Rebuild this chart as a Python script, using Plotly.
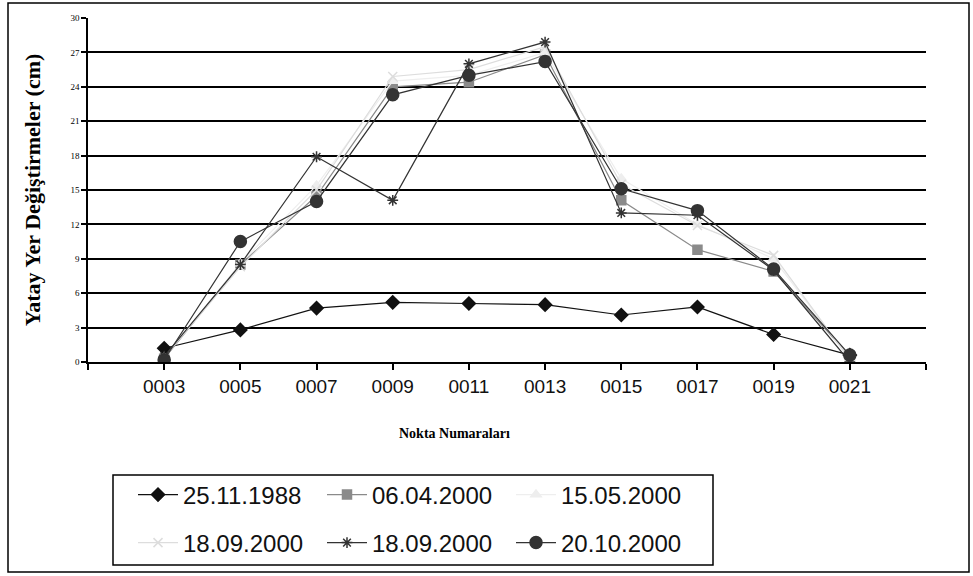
import plotly.graph_objects as go

categories = ["0003", "0005", "0007", "0009", "0011", "0013", "0015", "0017", "0019", "0021"]
y_ticks = [0, 3, 6, 9, 12, 15, 18, 21, 24, 27, 30]

s_1988 = [1.2, 2.8, 4.7, 5.2, 5.1, 5.0, 4.1, 4.8, 2.4, 0.6]
s_0604 = [0.3, 8.5, 14.5, 24.0, 24.4, 26.8, 14.1, 9.8, 7.9, 0.5]
s_1505 = [0.4, 8.6, 15.4, 24.5, 25.0, 27.0, 16.0, 12.0, 9.0, 0.3]
s_1809a = [0.4, 8.3, 15.0, 24.9, 25.5, 27.5, 15.5, 11.9, 9.3, 0.2]
s_1809b = [0.5, 8.5, 17.9, 14.1, 26.0, 27.9, 13.0, 12.8, 8.0, 0.0]
s_2010 = [0.2, 10.5, 14.0, 23.3, 25.0, 26.2, 15.1, 13.2, 8.1, 0.6]

series = [
    ("25.11.1988", s_1988, "#111111", "diamond", 10, "legend"),
    ("06.04.2000", s_0604, "#8a8a8a", "square", 9, "legend"),
    ("15.05.2000", s_1505, "#eeeeee", "triangle-up", 9, "legend"),
    ("18.09.2000", s_1809a, "#dddddd", "x-thin", 9, "legend2"),
    ("18.09.2000", s_1809b, "#333333", "asterisk", 9, "legend2"),
    ("20.10.2000", s_2010, "#333333", "circle", 12, "legend2"),
]

W, H = 973, 576
ML, MR, MT, MB = 88, 47, 18, 214
PW, PH = W - ML - MR, H - MT - MB


def px(x):
    return (x - ML) / PW


def py(y):
    return (H - MB - y) / PH


xpos = list(range(len(categories)))
fig = go.Figure()
for name, vals, col, sym, sz, lg in series:
    fig.add_trace(go.Scatter(
        x=xpos, y=vals, mode="lines+markers", name=name, legend=lg,
        line=dict(color=col, width=1.2),
        marker=dict(symbol=sym, size=sz, color=col,
                    line=dict(color=col, width=1.5)),
    ))

legend_common = dict(
    orientation="h", xanchor="left", yanchor="middle",
    bgcolor="rgba(0,0,0,0)", borderwidth=0,
    font=dict(size=24, family="Liberation Sans", color="#111111"),
    entrywidth=134, entrywidthmode="pixels", itemwidth=40,
)

fig.update_layout(
    width=W, height=H,
    margin=dict(l=ML, r=MR, t=MT, b=MB, autoexpand=False),
    paper_bgcolor="white", plot_bgcolor="white",
    showlegend=True,
    font=dict(family="Liberation Serif", color="black"),
    xaxis=dict(
        range=[-1, len(categories)],
        tickvals=list(range(-1, len(categories) + 1)),
        ticktext=[""] + categories + [""],
        showgrid=False, zeroline=False, automargin=False,
        showline=True, linecolor="black", linewidth=1.5,
        ticks="outside", ticklen=6, tickcolor="black", tickwidth=1.5,
        tickfont=dict(size=19, family="Liberation Sans", color="#111111"),
    ),
    yaxis=dict(
        range=[0, 30], tickvals=y_ticks, automargin=False,
        showgrid=True, gridcolor="black", gridwidth=1.5,
        zeroline=False,
        showline=True, linecolor="black", linewidth=1.5,
        ticks="outside", ticklen=5, tickcolor="black", tickwidth=1.5,
        tickfont=dict(size=9, family="Liberation Serif"),
        title=dict(text="<b>Yatay Yer Değiştirmeler (cm)</b>",
                   font=dict(size=22, family="Liberation Serif"), standoff=24),
    ),
    legend=dict(x=px(133), y=py(495), **legend_common),
    legend2=dict(x=px(133), y=py(543), **legend_common),
    annotations=[dict(text="<b>Nokta Numaraları</b>", xref="paper", yref="paper",
                      x=px(397), y=py(433), xanchor="left", yanchor="middle",
                      showarrow=False, font=dict(size=14, family="Liberation Serif"))],
    shapes=[
        dict(type="rect", xref="paper", yref="paper",
             x0=px(8), x1=px(969), y0=py(572), y1=py(3),
             line=dict(color="black", width=1.5), fillcolor="rgba(0,0,0,0)"),
        dict(type="rect", xref="paper", yref="paper",
             x0=px(113), x1=px(713), y0=py(565), y1=py(475),
             line=dict(color="black", width=1.5), fillcolor="rgba(0,0,0,0)"),
    ],
)

fig.write_html("out.html", config={"displayModeBar": False},
               post_script="document.body.style.margin='0';")
